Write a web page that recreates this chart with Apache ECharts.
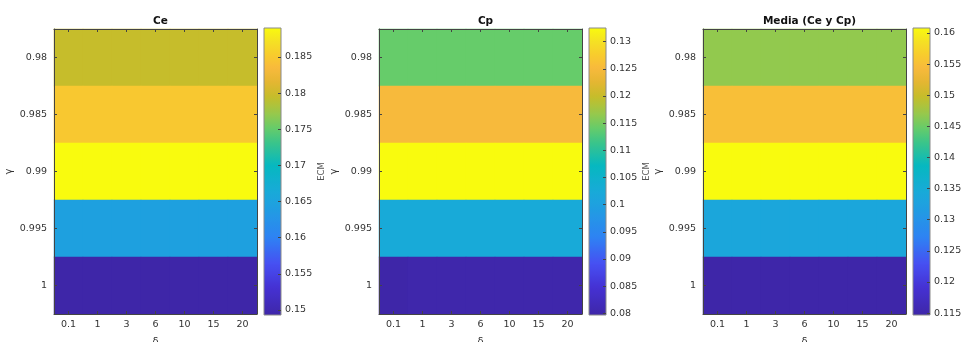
<!DOCTYPE html>
<html>
<head>
<meta charset="utf-8">
<script src="https://cdn.jsdelivr.net/npm/echarts@6/dist/echarts.min.js"></script>
<style>
html,body{margin:0;padding:0;background:#fff;}
#chart{width:964px;height:342px;}
</style>
</head>
<body>
<div id="chart"></div>
<script>
// ---- data ----
const gammaLabels = ['0.98', '0.985', '0.99', '0.995', '1'];
const deltaLabels = ['0.1', '1', '3', '6', '10', '15', '20'];
const titles = ['Ce', 'Cp', 'Media (Ce y Cp)'];

// rows follow gammaLabels, columns follow deltaLabels
const ceValues = [
  [0.1795, 0.1795, 0.1795, 0.1795, 0.1795, 0.1795, 0.1795],
  [0.1848, 0.1848, 0.1848, 0.1848, 0.1848, 0.1848, 0.1848],
  [0.1890, 0.1890, 0.1890, 0.1890, 0.1890, 0.1890, 0.1890],
  [0.1645, 0.1645, 0.1645, 0.1645, 0.1645, 0.1645, 0.1645],
  [0.1493, 0.1493, 0.1493, 0.1493, 0.1493, 0.1493, 0.1493]
];
const cpValues = [
  [0.1140, 0.1140, 0.1140, 0.1140, 0.1140, 0.1140, 0.1140],
  [0.1250, 0.1250, 0.1250, 0.1250, 0.1250, 0.1250, 0.1250],
  [0.1325, 0.1325, 0.1325, 0.1325, 0.1325, 0.1325, 0.1325],
  [0.1024, 0.1024, 0.1024, 0.1024, 0.1024, 0.1024, 0.1024],
  [0.0797, 0.0801, 0.0801, 0.0801, 0.0801, 0.0801, 0.0801]
];
const mediaValues = [
  [0.1468, 0.1468, 0.1468, 0.1468, 0.1468, 0.1468, 0.1468],
  [0.1549, 0.1549, 0.1549, 0.1549, 0.1549, 0.1549, 0.1549],
  [0.1608, 0.1608, 0.1608, 0.1608, 0.1608, 0.1608, 0.1608],
  [0.1335, 0.1335, 0.1335, 0.1335, 0.1335, 0.1335, 0.1335],
  [0.1147, 0.1148, 0.1148, 0.1148, 0.1148, 0.1148, 0.1148]
];
const ceTicks = [0.15, 0.155, 0.16, 0.165, 0.17, 0.175, 0.18, 0.185];
const cpTicks = [0.08, 0.085, 0.09, 0.095, 0.1, 0.105, 0.11, 0.115, 0.12, 0.125, 0.13];
const mediaTicks = [0.115, 0.12, 0.125, 0.13, 0.135, 0.14, 0.145, 0.15, 0.155, 0.16];

// ---- style / layout ----
const parulaStops = [
  [0.00, '#3E26A8'], [0.10, '#4532D4'], [0.18, '#4650F2'], [0.27, '#2E82F3'],
  [0.38, '#1FA0E0'], [0.43, '#18AAD8'], [0.52, '#06B8C0'], [0.60, '#3AC48A'],
  [0.65, '#66CC6A'], [0.70, '#96C84C'], [0.76, '#C6BD2A'], [0.81, '#E4B632'],
  [0.86, '#F8BA3C'], [0.90, '#F8CA2E'], [0.95, '#F5E024'], [1.00, '#F9FB0E']
];
function hex2rgb(h){return [parseInt(h.substr(1,2),16),parseInt(h.substr(3,2),16),parseInt(h.substr(5,2),16)];}
function sampleParula(t){
  for(let i=1;i<parulaStops.length;i++){
    if(t<=parulaStops[i][0]){
      const a=parulaStops[i-1], b=parulaStops[i];
      const f=(t-a[0])/(b[0]-a[0]);
      const ca=hex2rgb(a[1]), cb=hex2rgb(b[1]);
      const c=ca.map((v,k)=>Math.round(v+(cb[k]-v)*f));
      return 'rgb('+c.join(',')+')';
    }
  }
  return parulaStops[parulaStops.length-1][1];
}
const paletteN = 128;
const palette = [];
for(let i=0;i<paletteN;i++) palette.push(sampleParula(i/(paletteN-1)));
const gradStops = palette.map((c,i)=>({offset: i/(paletteN-1), color: c}));

const FONT = 'DejaVu Sans';
const plotLefts = [54, 379, 703];
const barLefts = [264, 589, 913];
const TOP = 29, H = 285, W = 203, BW = 17;
const TXT = '#333';
const LINE = '#444';

const datasets = [ceValues, cpValues, mediaValues];
const tickSets = [ceTicks, cpTicks, mediaTicks];

const grid = [], xAxis = [], yAxis = [], series = [], visualMap = [], title = [];

datasets.forEach((vals, p) => {
  const flat = vals.flat();
  const vmin = Math.min(...flat), vmax = Math.max(...flat);
  const gHeat = grid.length;
  grid.push({left: plotLefts[p], top: TOP, width: W, height: H, containLabel: false, outerBoundsMode: 'none'});
  const gBar = grid.length;
  grid.push({left: barLefts[p], top: TOP - 1, width: BW, height: H + 2, containLabel: false, outerBoundsMode: 'none',
    show: true, borderColor: '#8a8a8a', borderWidth: 1,
    backgroundColor: {type: 'linear', x: 0, y: 1, x2: 0, y2: 0, colorStops: gradStops}});

  title.push({text: titles[p], left: plotLefts[p] + W / 2, top: 11, textAlign: 'center',
    textStyle: {fontFamily: FONT, fontSize: 10.5, fontWeight: 'bold', color: '#111'}});

  const xb = xAxis.length;
  xAxis.push({type: 'category', gridIndex: gHeat, data: deltaLabels, position: 'bottom', z: 10,
    axisLine: {show: true, lineStyle: {color: LINE, width: 1}},
    axisTick: {show: true, inside: true, length: 3, alignWithLabel: true, lineStyle: {color: LINE}},
    axisLabel: {fontFamily: FONT, fontSize: 9.5, color: TXT, margin: 6},
    splitLine: {show: false},
    name: 'δ', nameLocation: 'middle', nameGap: 23,
    nameTextStyle: {fontFamily: FONT, fontSize: 10, color: TXT}});
  xAxis.push({type: 'category', gridIndex: gHeat, data: deltaLabels, position: 'top', z: 10,
    axisLine: {show: true, lineStyle: {color: LINE, width: 1}},
    axisTick: {show: true, inside: true, length: 3, alignWithLabel: true, lineStyle: {color: LINE}},
    axisLabel: {show: false}, splitLine: {show: false}});
  xAxis.push({type: 'category', gridIndex: gBar, data: [''], show: false});

  const yb = yAxis.length;
  yAxis.push({type: 'category', gridIndex: gHeat, data: gammaLabels, inverse: true, position: 'left', z: 10,
    axisLine: {show: true, lineStyle: {color: LINE, width: 1}},
    axisTick: {show: true, inside: true, length: 3, alignWithLabel: true, lineStyle: {color: LINE}},
    axisLabel: {fontFamily: FONT, fontSize: 9.5, color: TXT, margin: 7},
    splitLine: {show: false},
    name: 'γ', nameLocation: 'middle', nameGap: 40,
    nameTextStyle: {fontFamily: FONT, fontSize: 10, color: TXT}});
  yAxis.push({type: 'category', gridIndex: gHeat, data: gammaLabels, inverse: true, position: 'right', z: 10,
    axisLine: {show: true, lineStyle: {color: LINE, width: 1}},
    axisTick: {show: true, inside: true, length: 3, alignWithLabel: true, lineStyle: {color: LINE}},
    axisLabel: {show: false}, splitLine: {show: false}});
  yAxis.push({type: 'value', gridIndex: gBar, min: vmin, max: vmax, position: 'right', z: 10,
    axisLine: {show: false},
    axisTick: {show: true, inside: true, length: 3, customValues: tickSets[p], lineStyle: {color: LINE}},
    axisLabel: {fontFamily: FONT, fontSize: 9.5, color: TXT, margin: 4, customValues: tickSets[p],
      formatter: v => String(+v.toFixed(4))},
    splitLine: {show: false},
    name: 'ECM', nameLocation: 'middle', nameGap: 36, nameRotate: 90,
    nameTextStyle: {fontFamily: FONT, fontSize: 8.5, color: '#555'}});

  const data = [];
  vals.forEach((row, r) => row.forEach((v, c) => data.push([c, r, v])));
  const sIdx = series.length;
  series.push({type: 'heatmap', xAxisIndex: xb, yAxisIndex: yb, data: data,
    itemStyle: {borderWidth: 0}, emphasis: {disabled: true}, progressive: 0});
  visualMap.push({type: 'continuous', show: false, seriesIndex: sIdx, dimension: 2,
    min: vmin, max: vmax, inRange: {color: palette}});
});

const chart = echarts.init(document.getElementById('chart'), null, {renderer: 'canvas'});
chart.setOption({
  animation: false,
  backgroundColor: '#fff',
  title, grid, xAxis, yAxis, series, visualMap
});
</script>
</body>
</html>
